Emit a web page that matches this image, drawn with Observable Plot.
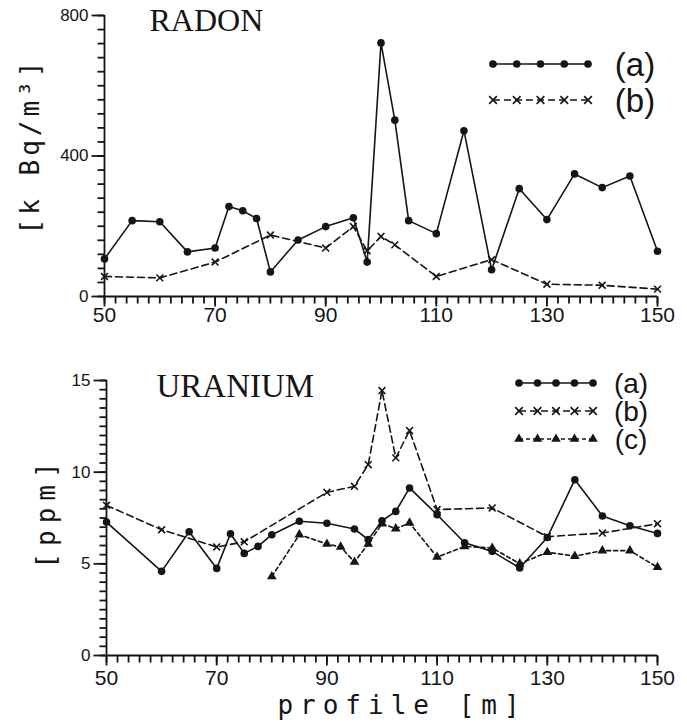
<!DOCTYPE html>
<html>
<head>
<meta charset="utf-8">
<script src="https://cdn.jsdelivr.net/npm/d3@7"></script>
<script src="https://cdn.jsdelivr.net/npm/@observablehq/plot@0.6"></script>
<style>
  html, body { margin: 0; padding: 0; background: #fff; }
  #chart { width: 687px; }
  #chart svg { display: block; }
</style>
</head>
<body>
<div id="chart"></div>
<script>
// ---------- DATA ----------
// Radon [kBq/m3]
const radonProfileA = [50,55,60,65,70,72.5,75,77.5,80,85,90,95,97.5,100,102.5,105,110,115,120,125,130,135,140,145,150];
const radonA        = [107,216,213,127,138,256,244,222,70,161,199,224,98,722,502,216,179,472,76,307,219,349,310,343,129];
const radonProfileB = [50,60,70,80,90,95,97.5,100,102.5,110,120,130,140,150];
const radonB        = [57,53,98,175,138,199,130,171,147,57,105,35,32,21];

// Uranium [ppm]
const uranProfileA = [50,60,65,70,72.5,75,77.5,80,85,90,95,97.5,100,102.5,105,110,115,120,125,130,135,140,145,150];
const uranA        = [7.28,4.59,6.75,4.75,6.64,5.57,5.95,6.59,7.32,7.21,6.90,6.32,7.35,7.86,9.14,7.68,6.15,5.68,4.77,6.44,9.59,7.61,7.08,6.66];
const uranProfileB = [50,60,70,75,90,95,97.5,100,102.5,105,110,120,130,140,150];
const uranB        = [8.19,6.86,5.92,6.2,8.90,9.23,10.41,14.45,10.78,12.27,7.96,8.05,6.48,6.68,7.19];
const uranProfileC = [80,85,90,92.5,95,97.5,100,102.5,105,110,115,120,125,130,135,140,145,150];
const uranC        = [4.31,6.59,6.08,5.92,5.10,6.08,7.19,6.92,7.23,5.37,5.95,5.86,5.01,5.63,5.42,5.72,5.72,4.81];

const xMajorTicks = [50, 70, 90, 110, 130, 150];
const radonMajorTicks = [0, 400, 800];
const uranMajorTicks = [0, 5, 10, 15];
const titleRadon = "RADON";
const titleUranium = "URANIUM";
const labelRadon = "[k Bq/m³]";
const labelUranium = "[ppm]";
const labelProfile = "profile [m]";

// ---------- STYLE ----------
const INK = "#151515";
const tickFont = "'Liberation Sans', Arial, sans-serif";
const plotterFont = "'DejaVu Sans Mono', 'Liberation Mono', monospace";
const legendFont = "'Liberation Sans', 'DejaVu Sans', sans-serif";
const serifFont = "'Liberation Serif', 'DejaVu Serif', serif";
const styles = {
  a: {dash: null, symbol: "circle"},
  b: {dash: "7,4", symbol: "times"},
  c: {dash: "4,3", symbol: "triangle"}
};
const zip = (xs, ys) => xs.map((x, i) => ({x, y: ys[i]}));

// tick glyphs used as dot symbols (segment hanging from the anchor point)
const tickDown = len => ({draw(ctx) { ctx.moveTo(0, 0); ctx.lineTo(0, len); }});
const tickLeft = len => ({draw(ctx) { ctx.moveTo(0, 0); ctx.lineTo(-len, 0); }});

function seriesMarks(data, key) {
  const s = styles[key];
  const marks = [Plot.line(data, {x: "x", y: "y", stroke: INK, strokeWidth: 1.6, strokeDasharray: s.dash})];
  if (s.symbol === "times") {
    marks.push(Plot.dot(data, {x: "x", y: "y", symbol: "times", r: 3.2, stroke: INK, strokeWidth: 1.6}));
  } else {
    marks.push(Plot.dot(data, {x: "x", y: "y", symbol: s.symbol, r: s.symbol === "circle" ? 3.8 : 3.6, fill: INK, stroke: "none"}));
  }
  return marks;
}

function tickMarks(yDomain, yMajor, yMinor) {
  const y0 = yDomain[0];
  const common = {stroke: INK, strokeWidth: 1.8, fill: "none", r: 4};
  return [
    Plot.dot(d3.range(50, 151, 2), {x: d => d, y: () => y0, symbol: tickDown(7), ...common}),
    Plot.dot(xMajorTicks, {x: d => d, y: () => y0, symbol: tickDown(10), ...common}),
    Plot.dot(yMinor, {x: () => 50, y: d => d, symbol: tickLeft(7), ...common}),
    Plot.dot(yMajor, {x: () => 50, y: d => d, symbol: tickLeft(13), ...common})
  ];
}

// legend drawn by a function mark, positions relative to the frame
function legendMark(keys, opts) {
  return (index, scales, values, dims) => {
    const right = dims.width - dims.marginRight;
    const g = d3.create("svg:g");
    keys.forEach((k, i) => {
      const s = styles[k];
      const y = dims.marginTop + opts.top + i * opts.step;
      const x0 = right + opts.x0, x1 = right + opts.x1;
      g.append("line").attr("x1", x0).attr("x2", x1).attr("y1", y).attr("y2", y)
        .attr("stroke", INK).attr("stroke-width", 1.6).attr("stroke-dasharray", s.dash);
      d3.range(5).map(j => x0 + (x1 - x0) * j / 4).forEach(xx => {
        if (s.symbol === "times") {
          g.append("path").attr("transform", `translate(${xx},${y})`)
            .attr("d", d3.symbol(d3.symbolTimes, 40)())
            .attr("fill", "none").attr("stroke", INK).attr("stroke-width", 1.6);
        } else {
          g.append("path").attr("transform", `translate(${xx},${y})`)
            .attr("d", d3.symbol(s.symbol === "circle" ? d3.symbolCircle : d3.symbolTriangle, s.symbol === "circle" ? 46 : 40)())
            .attr("fill", INK);
        }
      });
      g.append("text").attr("x", right + opts.tx).attr("y", y)
        .attr("text-anchor", "middle").attr("dominant-baseline", "central")
        .attr("font-family", legendFont).attr("font-size", opts.fontSize)
        .attr("fill", INK).text(`(${k})`);
    });
    return g.node();
  };
}

function panel(o) {
  const yMinor = d3.range(o.yDomain[0], o.yDomain[1] + 1e-9, o.yMinorStep);
  const marks = [
    Plot.axisY(o.yMajor, {tickSize: 0, tickPadding: 16, fontSize: 17, fontFamily: tickFont, label: null, fill: INK}),
    Plot.axisX(xMajorTicks, {tickSize: 0, tickPadding: o.xTickPad, fontSize: 21, fontFamily: tickFont, label: null, fill: INK}),
    Plot.ruleX([50], {stroke: INK, strokeWidth: 1.8}),
    Plot.ruleY([o.yDomain[0]], {stroke: INK, strokeWidth: 1.8}),
    ...o.series.flatMap(([data, key]) => seriesMarks(data, key)),
    Plot.text([o.title], {text: d => d, frameAnchor: "top-left", textAnchor: "start", lineAnchor: "top", dx: o.titleDx, dy: -7, fontSize: o.titleSize, fontFamily: serifFont, fill: INK}),
    Plot.text([o.ylabel], {text: d => d, frameAnchor: "left", textAnchor: "middle", lineAnchor: "middle", rotate: -90, dx: o.ylabelPos[0], dy: o.ylabelPos[1], fontSize: 26, fontFamily: plotterFont, fill: INK}),
    o.legend,
    ...tickMarks(o.yDomain, o.yMajor, yMinor)
  ];
  if (o.xlabel) {
    marks.push(Plot.text([o.xlabel], {text: d => d, frameAnchor: "bottom", textAnchor: "middle", lineAnchor: "middle", dx: 20, dy: 50, fontSize: 26, fontFamily: plotterFont, fill: INK}));
  }
  const svg = Plot.plot({
    width: 687, height: o.height, marginTop: o.marginTop, marginBottom: o.marginBottom, marginLeft: o.marginLeft, marginRight: 30,
    style: {background: "#fff", color: INK, overflow: "visible"},
    x: {domain: [50, 150]},
    y: {domain: o.yDomain},
    marks
  });
  // letter spacing of the plotter-style labels
  d3.select(svg).selectAll("text").each(function () {
    const t = this.textContent;
    if (o.spacing[t] != null) this.setAttribute("letter-spacing", o.spacing[t]);
  });
  return svg;
}

const radonPanel = panel({
  height: 330, marginTop: 15, marginBottom: 34, marginLeft: 104,
  yDomain: [0, 800], yMajor: radonMajorTicks, yMinorStep: 40,
  series: [[zip(radonProfileA, radonA), "a"], [zip(radonProfileB, radonB), "b"]],
  title: titleRadon, titleDx: 45, titleSize: 32,
  ylabel: labelRadon, xlabel: null, xTickPad: 11,
  ylabelPos: [-74, -10],
  spacing: {[labelRadon]: 4},
  legend: legendMark(["a", "b"], {top: 49, step: 36, x0: -164, x1: -69, tx: -22, fontSize: 33})
});
const uraniumPanel = panel({
  height: 393, marginTop: 50, marginBottom: 68, marginLeft: 106,
  yDomain: [0, 15], yMajor: uranMajorTicks, yMinorStep: 0.5,
  series: [[zip(uranProfileA, uranA), "a"], [zip(uranProfileB, uranB), "b"], [zip(uranProfileC, uranC), "c"]],
  title: titleUranium, titleDx: 50, titleSize: 33,
  ylabel: labelUranium, xlabel: labelProfile, xTickPad: 15,
  ylabelPos: [-60, -6],
  spacing: {[labelUranium]: 7, [labelProfile]: 7},
  legend: legendMark(["a", "b", "c"], {top: 3, step: 28, x0: -138, x1: -64, tx: -26, fontSize: 28})
});
document.getElementById("chart").append(radonPanel, uraniumPanel);
</script>
</body>
</html>
